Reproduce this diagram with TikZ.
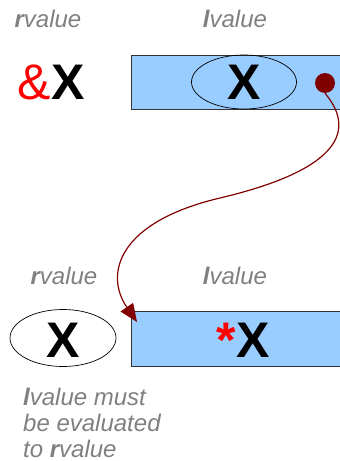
\documentclass[tikz,border=0pt]{standalone}
\usepackage{fontspec}
\setmainfont{Liberation Sans}
\usetikzlibrary{arrows.meta,shapes.geometric}
\definecolor{boxblue}{HTML}{99CCFF}
\definecolor{ptrred}{HTML}{800000}
\definecolor{taggray}{HTML}{808080}

\begin{document}
\begin{tikzpicture}[x=1pt, y=-1pt, every node/.style={inner sep=0pt},
	>={Triangle[length=18pt, width=15pt]},
	tag/.style={font=\fontsize{24}{28}\selectfont\itshape, text=taggray, anchor=base},
	note/.style={font=\fontsize{24}{28}\selectfont\itshape, text=taggray, anchor=base west},
	bigx/.style={font=\fontsize{50}{50}\selectfont\bfseries, anchor=base},
	cellbox/.style={draw=black!80, line width=0.9pt, fill=boxblue, anchor=north west, minimum width=225pt},
	valring/.style={ellipse, draw=black, line width=0.7pt}]
	\useasboundingbox (0,0) rectangle (340,461);
	\clip (0,0) rectangle (340,461);
	% upper row
	\node[tag] (rtop) at (48,27) {\textbf{r}value};
	\node[tag] (ltop) at (235,27) {\textbf{l}value};
	\node[cellbox, minimum height=54pt] (cell) at (131,55) {};
	\node[valring, minimum width=105pt, minimum height=54pt] (ring) at (244,82) {};
	\node[bigx] (xtop) at (244,99) {X};
	\node[bigx] (addr) at (51,99) {{\mdseries\textcolor{red}{\&}}X};
	\node[circle, fill=ptrred, minimum size=20pt] (ptr) at (325,83) {};
	% lower row
	\node[tag] (rbot) at (64,284) {\textbf{r}value};
	\node[tag] (lbot) at (235,284) {\textbf{l}value};
	\node[cellbox, minimum height=55pt] (cell2) at (131,311) {};
	\node[valring, minimum width=106pt, minimum height=57pt] (ring2) at (63,338) {};
	\node[bigx] (xbot) at (63,357) {X};
	\node[bigx] (deref) at (243,357) {\textcolor{red}{*}X};
	\coordinate (hit) at (137,322);
	% pointer
	\draw[->, ptrred, line width=1.2pt] (ptr.south) .. controls (360,135) and (330,172) .. (220,198)
		.. controls (118,222) and (104,274) .. (hit);
	% remark
	\node[note] (note1) at (23,405) {\textbf{l}value must};
	\node[note] (note2) at (23,431) {be evaluated};
	\node[note] (note3) at (23,457) {to \textbf{r}value};
\end{tikzpicture}
\end{document}
